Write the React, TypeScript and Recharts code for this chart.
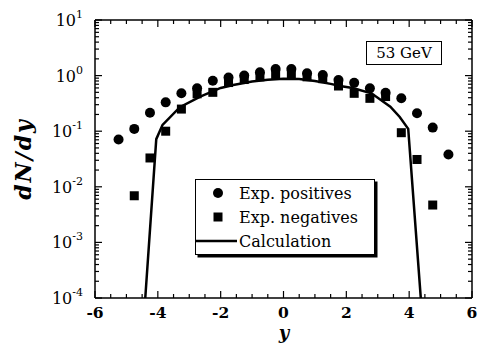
import {
  Scatter,
  ScatterChart,
  XAxis,
  YAxis,
} from "recharts";

const posY = [-5.25, -4.75, -4.25, -3.75, -3.25, -2.75, -2.25, -1.75, -1.25, -0.75, -0.25, 0.25, 0.75, 1.25, 1.75, 2.25, 2.75, 3.25, 3.75, 4.25, 4.75, 5.25];
const posDn = [0.071, 0.11, 0.215, 0.33, 0.48, 0.59, 0.81, 0.92, 1.0, 1.15, 1.31, 1.31, 1.1, 1.02, 0.83, 0.74, 0.59, 0.49, 0.39, 0.21, 0.116, 0.038];

const negY = [-4.75, -4.25, -3.75, -3.25, -2.75, -2.25, -1.75, -1.25, -0.75, -0.25, 0.25, 0.75, 1.25, 1.75, 2.25, 2.75, 3.25, 3.75, 4.25, 4.75];
const negDn = [0.0069, 0.033, 0.1, 0.25, 0.47, 0.5, 0.75, 0.85, 0.95, 1.05, 1.05, 0.95, 0.88, 0.65, 0.48, 0.39, 0.42, 0.094, 0.031, 0.0047];

// calculation curve
const calcY = [-4.4, -4.05, -3.85, -3.3, -2.65, -2.0, -1.6, -1.0, -0.5, 0, 0.5, 1.0, 1.5, 1.8, 2.2, 2.8, 3.4, 3.7, 3.97, 4.37];
const calcDn = [0.0001, 0.072, 0.13, 0.27, 0.42, 0.6, 0.68, 0.78, 0.84, 0.88, 0.87, 0.8, 0.71, 0.65, 0.6, 0.48, 0.275, 0.18, 0.11, 0.0001];

const xLabels = [-6, -4, -2, 0, 2, 4, 6];

const positives = posY.map((x, i) => ({ x, v: posDn[i] }));
const negatives = negY.map((x, i) => ({ x, v: negDn[i] }));
const calc = calcY.map((x, i) => ({ x, v: calcDn[i] }));

const xTicks = Array.from({ length: 25 }, (_, i) => -6 + i * 0.5);
const yTicks: number[] = [];
for (let e = -4; e <= 0; e++) for (let m = 1; m <= 9; m++) yTicks.push(m * 10 ** e);
yTicks.push(10);

const font = "'DejaVu Serif', serif";
const isMajorY = (v: number) => Math.abs(Math.log10(v) - Math.round(Math.log10(v))) < 1e-6;
const isMajorX = (v: number) => xLabels.includes(v);

function BottomTick({ x, y, payload }: any) {
  const v = payload.value;
  const major = isMajorX(v);
  return (
    <g>
      <line x1={x} x2={x} y1={y} y2={y - (major ? 7 : 4)} stroke="#000" strokeWidth={1.2} />
      {major && (
        <text x={x} y={y + 20} textAnchor="middle" fontFamily={font} fontWeight="bold" fontSize={15.5} fill="#000">
          {v}
        </text>
      )}
    </g>
  );
}

function TopTick({ x, y, payload }: any) {
  const major = isMajorX(payload.value);
  return <line x1={x} x2={x} y1={y} y2={y + (major ? 7 : 4)} stroke="#000" strokeWidth={1.2} />;
}

function LeftTick({ x, y, payload }: any) {
  const v = payload.value;
  const major = isMajorY(v);
  const e = Math.round(Math.log10(v));
  return (
    <g>
      <line x1={x} x2={x + (major ? 7 : 4)} y1={y} y2={y} stroke="#000" strokeWidth={1.2} />
      {major && (
        <text x={x - 12} y={y + 6} textAnchor="end" fontFamily={font} fontSize={16} fill="#000">
          10
          <tspan dy={-8} fontSize={11}>
            {e}
          </tspan>
        </text>
      )}
    </g>
  );
}

function RightTick({ x, y, payload }: any) {
  const major = isMajorY(payload.value);
  return <line x1={x} x2={x - (major ? 7 : 4)} y1={y} y2={y} stroke="#000" strokeWidth={1.2} />;
}

const Dot = ({ cx, cy }: any) => <circle cx={cx} cy={cy} r={5} fill="#000" />;
const Sq = ({ cx, cy }: any) => <rect x={cx - 4.5} y={cy - 4.5} width={9} height={9} fill="#000" />;
const Nothing = () => <g />;

function LegendBox() {
  const row = { display: "flex", alignItems: "center", height: 24 } as const;
  return (
    <div
      style={{
        position: "absolute",
        left: 195,
        top: 179,
        width: 180,
        height: 76,
        border: "1.5px solid #000",
        boxShadow: "2.5px 2.5px 0 #000",
        background: "#fff",
        fontFamily: font,
        fontSize: 16,
        paddingTop: 1,
        boxSizing: "border-box",
      }}
    >
      {[
        { name: "Exp. positives", icon: <circle cx={22} cy={8} r={5} fill="#000" /> },
        { name: "Exp. negatives", icon: <rect x={17.5} y={3.5} width={9} height={9} fill="#000" /> },
        { name: "Calculation", icon: <line x1={0} x2={41} y1={8} y2={8} stroke="#000" strokeWidth={2.5} /> },
      ].map((it) => (
        <div key={it.name} style={row}>
          <svg width={41} height={16} style={{ marginRight: 2 }}>
            {it.icon}
          </svg>
          <span>{it.name}</span>
        </div>
      ))}
    </div>
  );
}

export default function App() {
  return (
    <div style={{ position: "absolute", left: 0, top: 0, width: 478, height: 344, background: "#fff" }}>
      <ScatterChart width={478} height={344} margin={{ top: 19, right: 5, bottom: 16, left: 0 }}>
        <XAxis
          type="number"
          dataKey="x"
          domain={[-6, 6]}
          ticks={xTicks}
          interval={0}
          height={30}
          tickSize={0}
          tickMargin={0}
          tick={BottomTick}
          axisLine={{ stroke: "#000", strokeWidth: 1.5 }}
          allowDataOverflow
        />
        <XAxis
          xAxisId="top"
          orientation="top"
          type="number"
          dataKey="x"
          domain={[-6, 6]}
          ticks={xTicks}
          interval={0}
          height={1}
          tickSize={0}
          tickMargin={0}
          tick={TopTick}
          axisLine={{ stroke: "#000", strokeWidth: 1.5 }}
          allowDataOverflow
        />
        <YAxis
          type="number"
          dataKey="v"
          scale="log"
          domain={[0.0001, 10]}
          ticks={yTicks}
          interval={0}
          width={95}
          tickSize={0}
          tickMargin={0}
          tick={LeftTick}
          axisLine={{ stroke: "#000", strokeWidth: 1.5 }}
          allowDataOverflow
        />
        <YAxis
          yAxisId="right"
          orientation="right"
          type="number"
          dataKey="v"
          scale="log"
          domain={[0.0001, 10]}
          ticks={yTicks}
          interval={0}
          width={1}
          tickSize={0}
          tickMargin={0}
          tick={RightTick}
          axisLine={{ stroke: "#000", strokeWidth: 1.5 }}
          allowDataOverflow
        />
        <Scatter
          name="Calculation"
          data={calc}
          line={{ stroke: "#000", strokeWidth: 2.5 }}
          lineType="joint"
          shape={Nothing}
          isAnimationActive={false}
        />
        <Scatter name="Exp. negatives" data={negatives} shape={Sq} isAnimationActive={false} />
        <Scatter name="Exp. positives" data={positives} shape={Dot} isAnimationActive={false} />
      </ScatterChart>
      <LegendBox />
      <div
        style={{
          position: "absolute",
          left: 366,
          top: 41,
          width: 76,
          height: 24,
          border: "1px solid #000",
          boxSizing: "border-box",
          fontFamily: font,
          fontSize: 15,
          textAlign: "center",
          lineHeight: "22px",
        }}
      >
        53 GeV
      </div>
      <svg width={478} height={344} style={{ position: "absolute", left: 0, top: 0, pointerEvents: "none" }}>
        <text
          x={0}
          y={0}
          transform="translate(31 159) rotate(-90)"
          textAnchor="middle"
          fontFamily={font}
          fontStyle="italic"
          fontWeight="bold"
          fontSize={22}
          letterSpacing={2}
        >
          dN/dy
        </text>
        <text x={284} y={339} textAnchor="middle" fontFamily={font} fontStyle="italic" fontWeight="bold" fontSize={18}>
          y
        </text>
      </svg>
    </div>
  );
}
